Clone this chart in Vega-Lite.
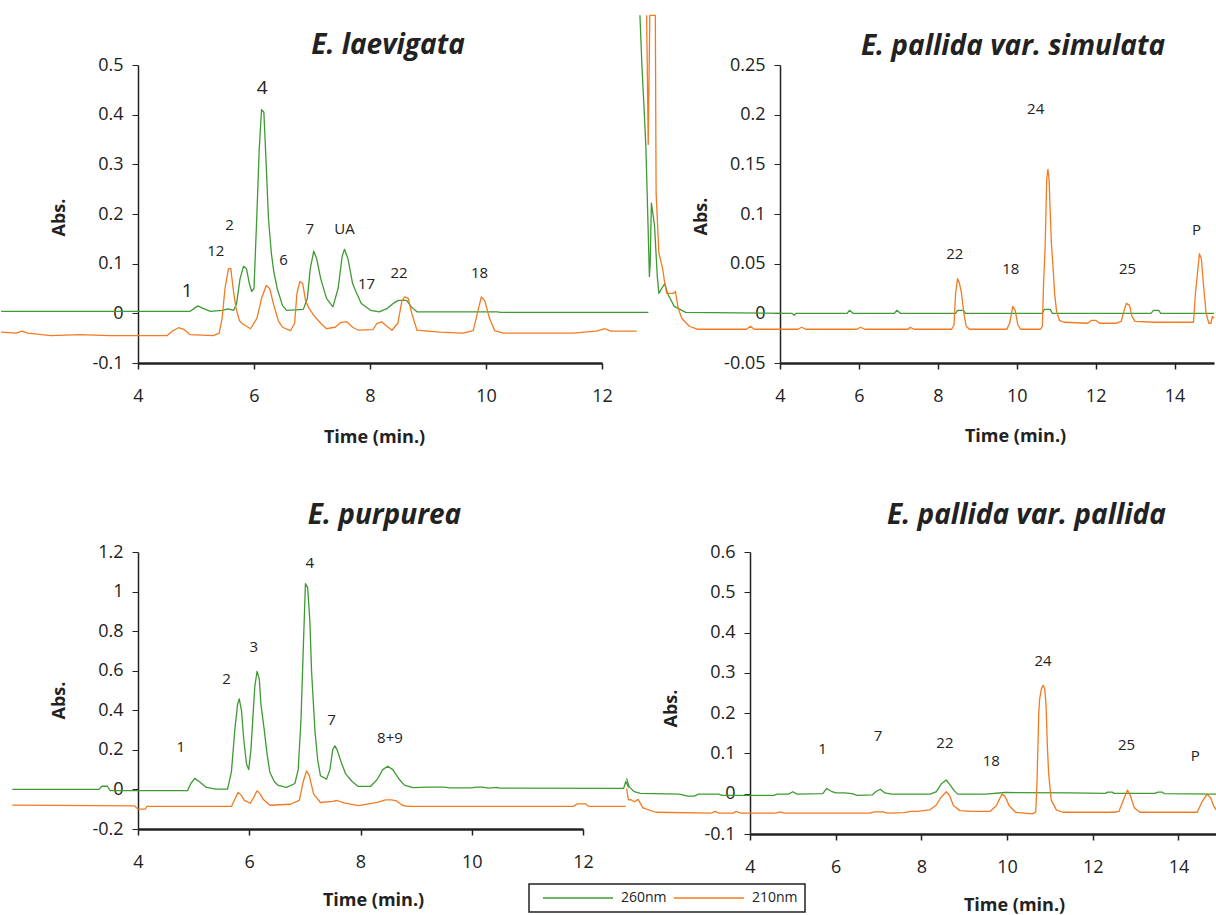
{
"$schema": "https://vega.github.io/schema/vega-lite/v6.json",
"background": "white",
"padding": {"left": 0, "top": 14, "right": 0, "bottom": 0},
"bounds": "flush",
"spacing": 487,
"resolve": {"scale": {"color": "independent"}, "legend": {"color": "independent"}},
"config": {
  "view": {"stroke": null},
  "font": "Open Sans",
  "title": {"font": "Open Sans", "fontSize": 28, "fontWeight": "bold", "fontStyle": "italic", "color": "#222", "anchor": "middle", "baseline": "alphabetic", "offset": 0},
  "axis": {"grid": false, "labelOverlap": false, "tickCount": 12, "domainColor": "#222", "tickColor": "#222", "labelColor": "#222", "titleColor": "#222", "labelFont": "Open Sans", "labelFontSize": 18, "titleFont": "Open Sans", "titleFontSize": 18, "titleFontWeight": "bold", "tickSize": 6, "labelExpr": "replace(datum.label, '\u2212', '-')"},
  "axisX": {"domainWidth": 2.5, "tickWidth": 1.5, "labelPadding": 18, "labelFlush": false, "titleBaseline": "middle", "titleAlign": "center"},
  "axisY": {"domainWidth": 1.5, "labelPadding": 9, "titleBaseline": "bottom", "titleX": -70},
  "legend": {"strokeWidth": 1.5}
},
"datasets": {
  "laev": [
    {"t":1.64,"v":0.004,"s":"260nm"},{"t":4.9,"v":0.004,"s":"260nm"},{"t":4.97,"v":0.01,"s":"260nm"},{"t":5.03,"v":0.015,"s":"260nm"},{"t":5.12,"v":0.01,"s":"260nm"},{"t":5.25,"v":0.004,"s":"260nm"},{"t":5.45,"v":0.006,"s":"260nm"},{"t":5.55,"v":0.009,"s":"260nm"},{"t":5.65,"v":0.006,"s":"260nm"},{"t":5.7,"v":0.02,"s":"260nm"},{"t":5.76,"v":0.07,"s":"260nm"},{"t":5.82,"v":0.095,"s":"260nm"},{"t":5.87,"v":0.09,"s":"260nm"},{"t":5.92,"v":0.06,"s":"260nm"},{"t":5.96,"v":0.044,"s":"260nm"},{"t":6.0,"v":0.05,"s":"260nm"},{"t":6.05,"v":0.2,"s":"260nm"},{"t":6.09,"v":0.33,"s":"260nm"},{"t":6.13,"v":0.41,"s":"260nm"},{"t":6.17,"v":0.405,"s":"260nm"},{"t":6.21,"v":0.3,"s":"260nm"},{"t":6.25,"v":0.19,"s":"260nm"},{"t":6.3,"v":0.12,"s":"260nm"},{"t":6.34,"v":0.085,"s":"260nm"},{"t":6.4,"v":0.05,"s":"260nm"},{"t":6.49,"v":0.016,"s":"260nm"},{"t":6.56,"v":0.006,"s":"260nm"},{"t":6.85,"v":0.008,"s":"260nm"},{"t":6.92,"v":0.03,"s":"260nm"},{"t":6.97,"v":0.09,"s":"260nm"},{"t":7.03,"v":0.125,"s":"260nm"},{"t":7.08,"v":0.11,"s":"260nm"},{"t":7.15,"v":0.07,"s":"260nm"},{"t":7.25,"v":0.03,"s":"260nm"},{"t":7.36,"v":0.013,"s":"260nm"},{"t":7.45,"v":0.05,"s":"260nm"},{"t":7.52,"v":0.115,"s":"260nm"},{"t":7.56,"v":0.129,"s":"260nm"},{"t":7.62,"v":0.11,"s":"260nm"},{"t":7.7,"v":0.06,"s":"260nm"},{"t":7.76,"v":0.043,"s":"260nm"},{"t":7.85,"v":0.02,"s":"260nm"},{"t":8.01,"v":0.006,"s":"260nm"},{"t":8.16,"v":0.003,"s":"260nm"},{"t":8.3,"v":0.01,"s":"260nm"},{"t":8.4,"v":0.02,"s":"260nm"},{"t":8.49,"v":0.026,"s":"260nm"},{"t":8.63,"v":0.026,"s":"260nm"},{"t":8.72,"v":0.012,"s":"260nm"},{"t":8.81,"v":0.003,"s":"260nm"},{"t":10.2,"v":0.003,"s":"260nm"},{"t":10.25,"v":0.002,"s":"260nm"},{"t":12.8,"v":0.002,"s":"260nm"},
    {"t":1.64,"v":-0.038,"s":"210nm"},{"t":1.9,"v":-0.04,"s":"210nm"},{"t":2.0,"v":-0.036,"s":"210nm"},{"t":2.1,"v":-0.04,"s":"210nm"},{"t":2.5,"v":-0.045,"s":"210nm"},{"t":3.0,"v":-0.043,"s":"210nm"},{"t":3.5,"v":-0.045,"s":"210nm"},{"t":4.5,"v":-0.045,"s":"210nm"},{"t":4.6,"v":-0.035,"s":"210nm"},{"t":4.7,"v":-0.029,"s":"210nm"},{"t":4.8,"v":-0.033,"s":"210nm"},{"t":4.9,"v":-0.043,"s":"210nm"},{"t":5.3,"v":-0.045,"s":"210nm"},{"t":5.4,"v":-0.04,"s":"210nm"},{"t":5.45,"v":-0.01,"s":"210nm"},{"t":5.5,"v":0.05,"s":"210nm"},{"t":5.56,"v":0.09,"s":"210nm"},{"t":5.6,"v":0.09,"s":"210nm"},{"t":5.64,"v":0.05,"s":"210nm"},{"t":5.69,"v":0.01,"s":"210nm"},{"t":5.75,"v":-0.015,"s":"210nm"},{"t":5.8,"v":-0.021,"s":"210nm"},{"t":5.94,"v":-0.031,"s":"210nm"},{"t":6.05,"v":-0.01,"s":"210nm"},{"t":6.13,"v":0.03,"s":"210nm"},{"t":6.21,"v":0.056,"s":"210nm"},{"t":6.27,"v":0.05,"s":"210nm"},{"t":6.34,"v":0.017,"s":"210nm"},{"t":6.42,"v":-0.015,"s":"210nm"},{"t":6.49,"v":-0.028,"s":"210nm"},{"t":6.63,"v":-0.035,"s":"210nm"},{"t":6.7,"v":-0.02,"s":"210nm"},{"t":6.74,"v":0.04,"s":"210nm"},{"t":6.79,"v":0.064,"s":"210nm"},{"t":6.84,"v":0.06,"s":"210nm"},{"t":6.89,"v":0.025,"s":"210nm"},{"t":6.95,"v":0.01,"s":"210nm"},{"t":7.03,"v":-0.004,"s":"210nm"},{"t":7.15,"v":-0.02,"s":"210nm"},{"t":7.25,"v":-0.031,"s":"210nm"},{"t":7.4,"v":-0.028,"s":"210nm"},{"t":7.5,"v":-0.018,"s":"210nm"},{"t":7.6,"v":-0.017,"s":"210nm"},{"t":7.7,"v":-0.028,"s":"210nm"},{"t":7.8,"v":-0.034,"s":"210nm"},{"t":8.05,"v":-0.033,"s":"210nm"},{"t":8.12,"v":-0.02,"s":"210nm"},{"t":8.2,"v":-0.017,"s":"210nm"},{"t":8.28,"v":-0.025,"s":"210nm"},{"t":8.38,"v":-0.034,"s":"210nm"},{"t":8.48,"v":-0.02,"s":"210nm"},{"t":8.55,"v":0.025,"s":"210nm"},{"t":8.6,"v":0.033,"s":"210nm"},{"t":8.66,"v":0.03,"s":"210nm"},{"t":8.72,"v":0.0,"s":"210nm"},{"t":8.81,"v":-0.034,"s":"210nm"},{"t":9.2,"v":-0.038,"s":"210nm"},{"t":9.6,"v":-0.04,"s":"210nm"},{"t":9.78,"v":-0.035,"s":"210nm"},{"t":9.85,"v":0.0,"s":"210nm"},{"t":9.92,"v":0.033,"s":"210nm"},{"t":9.98,"v":0.025,"s":"210nm"},{"t":10.06,"v":-0.01,"s":"210nm"},{"t":10.15,"v":-0.035,"s":"210nm"},{"t":10.3,"v":-0.04,"s":"210nm"},{"t":11.5,"v":-0.04,"s":"210nm"},{"t":11.9,"v":-0.036,"s":"210nm"},{"t":12.05,"v":-0.031,"s":"210nm"},{"t":12.15,"v":-0.036,"s":"210nm"},{"t":12.6,"v":-0.036,"s":"210nm"}
  ],
  "laevLab": [
    {"t":5.34,"v":0.125,"label":"12"},{"t":5.58,"v":0.177,"label":"2"},{"t":6.51,"v":0.108,"label":"6"},{"t":6.96,"v":0.17,"label":"7"},{"t":7.56,"v":0.17,"label":"UA"},{"t":7.94,"v":0.06,"label":"17"},{"t":8.5,"v":0.082,"label":"22"},{"t":9.89,"v":0.082,"label":"18"}
  ],
  "laevBig": [
    {"t":4.85,"v":0.045,"label":"1"},{"t":6.14,"v":0.453,"label":"4"}
  ],
  "sim": [
    {"t":0.45,"v":0.30,"s":"260nm"},{"t":0.5,"v":0.25,"s":"260nm"},{"t":0.55,"v":0.21,"s":"260nm"},{"t":0.6,"v":0.168,"s":"260nm"},{"t":0.64,"v":0.111,"s":"260nm"},{"t":0.69,"v":0.037,"s":"260nm"},{"t":0.71,"v":0.05,"s":"260nm"},{"t":0.74,"v":0.111,"s":"260nm"},{"t":0.78,"v":0.1,"s":"260nm"},{"t":0.82,"v":0.088,"s":"260nm"},{"t":0.89,"v":0.037,"s":"260nm"},{"t":0.93,"v":0.02,"s":"260nm"},{"t":1.0,"v":0.025,"s":"260nm"},{"t":1.08,"v":0.03,"s":"260nm"},{"t":1.15,"v":0.02,"s":"260nm"},{"t":1.32,"v":0.007,"s":"260nm"},{"t":1.61,"v":0.001,"s":"260nm"},{"t":4.3,"v":0.0,"s":"260nm"},{"t":4.36,"v":-0.002,"s":"260nm"},{"t":4.4,"v":0.0,"s":"260nm"},{"t":5.7,"v":0.0,"s":"260nm"},{"t":5.76,"v":0.003,"s":"260nm"},{"t":5.85,"v":0.0,"s":"260nm"},{"t":6.9,"v":0.0,"s":"260nm"},{"t":6.96,"v":0.003,"s":"260nm"},{"t":7.05,"v":0.0,"s":"260nm"},{"t":8.45,"v":0.0,"s":"260nm"},{"t":8.5,"v":0.003,"s":"260nm"},{"t":8.65,"v":0.003,"s":"260nm"},{"t":8.7,"v":0.0,"s":"260nm"},{"t":10.65,"v":0.0,"s":"260nm"},{"t":10.7,"v":0.004,"s":"260nm"},{"t":10.85,"v":0.004,"s":"260nm"},{"t":10.9,"v":0.0,"s":"260nm"},{"t":13.4,"v":0.0,"s":"260nm"},{"t":13.47,"v":0.003,"s":"260nm"},{"t":13.6,"v":0.003,"s":"260nm"},{"t":13.65,"v":0.0,"s":"260nm"},{"t":15.0,"v":0.0,"s":"260nm"},
    {"t":0.62,"v":0.30,"s":"210nm"},{"t":0.66,"v":0.17,"s":"210nm"},{"t":0.7,"v":0.30,"s":"210nm"},{"t":0.84,"v":0.30,"s":"210nm"},{"t":0.86,"v":0.121,"s":"210nm"},{"t":0.93,"v":0.061,"s":"210nm"},{"t":1.03,"v":0.044,"s":"210nm"},{"t":1.08,"v":0.03,"s":"210nm"},{"t":1.13,"v":0.02,"s":"210nm"},{"t":1.3,"v":0.02,"s":"210nm"},{"t":1.35,"v":0.022,"s":"210nm"},{"t":1.42,"v":0.005,"s":"210nm"},{"t":1.51,"v":-0.005,"s":"210nm"},{"t":1.7,"v":-0.013,"s":"210nm"},{"t":1.9,"v":-0.016,"s":"210nm"},{"t":3.15,"v":-0.016,"s":"210nm"},{"t":3.25,"v":-0.013,"s":"210nm"},{"t":3.35,"v":-0.016,"s":"210nm"},{"t":4.45,"v":-0.016,"s":"210nm"},{"t":4.55,"v":-0.014,"s":"210nm"},{"t":4.65,"v":-0.016,"s":"210nm"},{"t":5.95,"v":-0.016,"s":"210nm"},{"t":6.04,"v":-0.014,"s":"210nm"},{"t":6.15,"v":-0.016,"s":"210nm"},{"t":7.25,"v":-0.016,"s":"210nm"},{"t":7.3,"v":-0.014,"s":"210nm"},{"t":7.4,"v":-0.016,"s":"210nm"},{"t":8.35,"v":-0.016,"s":"210nm"},{"t":8.41,"v":-0.012,"s":"210nm"},{"t":8.45,"v":0.02,"s":"210nm"},{"t":8.5,"v":0.035,"s":"210nm"},{"t":8.55,"v":0.03,"s":"210nm"},{"t":8.6,"v":0.02,"s":"210nm"},{"t":8.66,"v":0.0,"s":"210nm"},{"t":8.72,"v":-0.013,"s":"210nm"},{"t":8.8,"v":-0.016,"s":"210nm"},{"t":9.75,"v":-0.016,"s":"210nm"},{"t":9.82,"v":-0.01,"s":"210nm"},{"t":9.9,"v":0.007,"s":"210nm"},{"t":9.96,"v":0.003,"s":"210nm"},{"t":10.03,"v":-0.012,"s":"210nm"},{"t":10.1,"v":-0.016,"s":"210nm"},{"t":10.6,"v":-0.016,"s":"210nm"},{"t":10.65,"v":-0.013,"s":"210nm"},{"t":10.68,"v":0.03,"s":"210nm"},{"t":10.72,"v":0.067,"s":"210nm"},{"t":10.76,"v":0.135,"s":"210nm"},{"t":10.79,"v":0.145,"s":"210nm"},{"t":10.82,"v":0.135,"s":"210nm"},{"t":10.85,"v":0.1,"s":"210nm"},{"t":10.88,"v":0.07,"s":"210nm"},{"t":10.92,"v":0.047,"s":"210nm"},{"t":10.96,"v":0.02,"s":"210nm"},{"t":11.01,"v":0.002,"s":"210nm"},{"t":11.08,"v":-0.007,"s":"210nm"},{"t":11.2,"v":-0.009,"s":"210nm"},{"t":11.8,"v":-0.01,"s":"210nm"},{"t":11.9,"v":-0.007,"s":"210nm"},{"t":12.0,"v":-0.007,"s":"210nm"},{"t":12.1,"v":-0.01,"s":"210nm"},{"t":12.5,"v":-0.01,"s":"210nm"},{"t":12.65,"v":-0.008,"s":"210nm"},{"t":12.7,"v":0.0,"s":"210nm"},{"t":12.78,"v":0.01,"s":"210nm"},{"t":12.86,"v":0.008,"s":"210nm"},{"t":12.92,"v":-0.003,"s":"210nm"},{"t":13.0,"v":-0.008,"s":"210nm"},{"t":13.5,"v":-0.009,"s":"210nm"},{"t":14.48,"v":-0.009,"s":"210nm"},{"t":14.53,"v":0.02,"s":"210nm"},{"t":14.58,"v":0.04,"s":"210nm"},{"t":14.63,"v":0.06,"s":"210nm"},{"t":14.68,"v":0.055,"s":"210nm"},{"t":14.73,"v":0.03,"s":"210nm"},{"t":14.8,"v":0.0,"s":"210nm"},{"t":14.87,"v":-0.01,"s":"210nm"},{"t":14.92,"v":-0.01,"s":"210nm"},{"t":14.96,"v":-0.003,"s":"210nm"},{"t":15.0,"v":-0.005,"s":"210nm"}
  ],
  "simLab": [
    {"t":10.48,"v":0.206,"label":"24"},{"t":8.43,"v":0.06,"label":"22"},{"t":9.85,"v":0.045,"label":"18"},{"t":12.81,"v":0.045,"label":"25"},{"t":14.56,"v":0.084,"label":"P"}
  ],
  "pur": [
    {"t":1.74,"v":0.0,"s":"260nm"},{"t":3.3,"v":0.0,"s":"260nm"},{"t":3.35,"v":0.016,"s":"260nm"},{"t":3.45,"v":0.016,"s":"260nm"},{"t":3.5,"v":-0.006,"s":"260nm"},{"t":4.89,"v":-0.006,"s":"260nm"},{"t":4.95,"v":0.03,"s":"260nm"},{"t":5.02,"v":0.056,"s":"260nm"},{"t":5.1,"v":0.04,"s":"260nm"},{"t":5.23,"v":0.01,"s":"260nm"},{"t":5.4,"v":0.002,"s":"260nm"},{"t":5.61,"v":0.002,"s":"260nm"},{"t":5.68,"v":0.09,"s":"260nm"},{"t":5.74,"v":0.3,"s":"260nm"},{"t":5.79,"v":0.43,"s":"260nm"},{"t":5.82,"v":0.458,"s":"260nm"},{"t":5.86,"v":0.4,"s":"260nm"},{"t":5.9,"v":0.256,"s":"260nm"},{"t":5.95,"v":0.13,"s":"260nm"},{"t":5.99,"v":0.1,"s":"260nm"},{"t":6.03,"v":0.2,"s":"260nm"},{"t":6.06,"v":0.339,"s":"260nm"},{"t":6.1,"v":0.52,"s":"260nm"},{"t":6.14,"v":0.596,"s":"260nm"},{"t":6.18,"v":0.56,"s":"260nm"},{"t":6.21,"v":0.43,"s":"260nm"},{"t":6.27,"v":0.3,"s":"260nm"},{"t":6.32,"v":0.18,"s":"260nm"},{"t":6.37,"v":0.087,"s":"260nm"},{"t":6.45,"v":0.04,"s":"260nm"},{"t":6.52,"v":0.02,"s":"260nm"},{"t":6.67,"v":0.01,"s":"260nm"},{"t":6.82,"v":0.03,"s":"260nm"},{"t":6.88,"v":0.1,"s":"260nm"},{"t":6.93,"v":0.35,"s":"260nm"},{"t":6.97,"v":0.7,"s":"260nm"},{"t":7.01,"v":1.04,"s":"260nm"},{"t":7.05,"v":1.02,"s":"260nm"},{"t":7.09,"v":0.85,"s":"260nm"},{"t":7.12,"v":0.6,"s":"260nm"},{"t":7.18,"v":0.3,"s":"260nm"},{"t":7.23,"v":0.15,"s":"260nm"},{"t":7.28,"v":0.069,"s":"260nm"},{"t":7.39,"v":0.052,"s":"260nm"},{"t":7.45,"v":0.1,"s":"260nm"},{"t":7.5,"v":0.2,"s":"260nm"},{"t":7.54,"v":0.221,"s":"260nm"},{"t":7.58,"v":0.2,"s":"260nm"},{"t":7.65,"v":0.14,"s":"260nm"},{"t":7.73,"v":0.08,"s":"260nm"},{"t":7.85,"v":0.04,"s":"260nm"},{"t":7.96,"v":0.015,"s":"260nm"},{"t":8.18,"v":0.015,"s":"260nm"},{"t":8.3,"v":0.05,"s":"260nm"},{"t":8.4,"v":0.1,"s":"260nm"},{"t":8.49,"v":0.117,"s":"260nm"},{"t":8.58,"v":0.1,"s":"260nm"},{"t":8.7,"v":0.05,"s":"260nm"},{"t":8.79,"v":0.022,"s":"260nm"},{"t":8.94,"v":0.009,"s":"260nm"},{"t":9.2,"v":0.012,"s":"260nm"},{"t":9.5,"v":0.012,"s":"260nm"},{"t":9.6,"v":0.008,"s":"260nm"},{"t":10.0,"v":0.008,"s":"260nm"},{"t":10.08,"v":0.012,"s":"260nm"},{"t":10.2,"v":0.012,"s":"260nm"},{"t":10.3,"v":0.007,"s":"260nm"},{"t":10.45,"v":0.01,"s":"260nm"},{"t":10.5,"v":0.007,"s":"260nm"},{"t":12.73,"v":0.005,"s":"260nm"},{"t":12.77,"v":0.04,"s":"260nm"},{"t":12.82,"v":0.01,"s":"260nm"},
    {"t":1.74,"v":-0.079,"s":"210nm"},{"t":3.94,"v":-0.083,"s":"210nm"},{"t":4.0,"v":-0.1,"s":"210nm"},{"t":4.13,"v":-0.1,"s":"210nm"},{"t":4.16,"v":-0.086,"s":"210nm"},{"t":5.68,"v":-0.086,"s":"210nm"},{"t":5.74,"v":-0.05,"s":"210nm"},{"t":5.8,"v":-0.015,"s":"210nm"},{"t":5.86,"v":-0.03,"s":"210nm"},{"t":5.91,"v":-0.055,"s":"210nm"},{"t":6.02,"v":-0.07,"s":"210nm"},{"t":6.08,"v":-0.04,"s":"210nm"},{"t":6.14,"v":-0.007,"s":"210nm"},{"t":6.2,"v":-0.025,"s":"210nm"},{"t":6.25,"v":-0.05,"s":"210nm"},{"t":6.37,"v":-0.08,"s":"210nm"},{"t":6.74,"v":-0.075,"s":"210nm"},{"t":6.9,"v":-0.055,"s":"210nm"},{"t":6.97,"v":0.04,"s":"210nm"},{"t":7.03,"v":0.094,"s":"210nm"},{"t":7.08,"v":0.07,"s":"210nm"},{"t":7.12,"v":0.02,"s":"210nm"},{"t":7.16,"v":-0.025,"s":"210nm"},{"t":7.28,"v":-0.066,"s":"210nm"},{"t":7.5,"v":-0.06,"s":"210nm"},{"t":7.58,"v":-0.056,"s":"210nm"},{"t":7.7,"v":-0.068,"s":"210nm"},{"t":7.96,"v":-0.082,"s":"210nm"},{"t":8.3,"v":-0.065,"s":"210nm"},{"t":8.45,"v":-0.053,"s":"210nm"},{"t":8.56,"v":-0.053,"s":"210nm"},{"t":8.65,"v":-0.058,"s":"210nm"},{"t":8.75,"v":-0.08,"s":"210nm"},{"t":8.85,"v":-0.086,"s":"210nm"},{"t":11.82,"v":-0.086,"s":"210nm"},{"t":11.9,"v":-0.073,"s":"210nm"},{"t":12.05,"v":-0.073,"s":"210nm"},{"t":12.1,"v":-0.086,"s":"210nm"},{"t":12.77,"v":-0.086,"s":"210nm"}
  ],
  "purLab": [
    {"t":4.77,"v":0.213,"label":"1"},{"t":5.59,"v":0.556,"label":"2"},{"t":6.08,"v":0.719,"label":"3"},{"t":7.09,"v":1.146,"label":"4"},{"t":7.48,"v":0.352,"label":"7"},{"t":8.53,"v":0.259,"label":"8+9"}
  ],
  "pal": [
    {"t":1.12,"v":0.038,"s":"260nm"},{"t":1.18,"v":0.017,"s":"260nm"},{"t":1.3,"v":0.005,"s":"260nm"},{"t":1.44,"v":0.001,"s":"260nm"},{"t":2.35,"v":-0.001,"s":"260nm"},{"t":2.55,"v":-0.006,"s":"260nm"},{"t":2.7,"v":-0.006,"s":"260nm"},{"t":2.8,"v":-0.001,"s":"260nm"},{"t":3.27,"v":-0.001,"s":"260nm"},{"t":3.35,"v":-0.004,"s":"260nm"},{"t":4.55,"v":-0.004,"s":"260nm"},{"t":4.64,"v":-0.001,"s":"260nm"},{"t":4.9,"v":-0.001,"s":"260nm"},{"t":5.0,"v":0.005,"s":"260nm"},{"t":5.1,"v":-0.001,"s":"260nm"},{"t":5.7,"v":0.0,"s":"260nm"},{"t":5.79,"v":0.013,"s":"260nm"},{"t":5.9,"v":0.006,"s":"260nm"},{"t":6.0,"v":0.002,"s":"260nm"},{"t":6.2,"v":0.002,"s":"260nm"},{"t":6.38,"v":0.0,"s":"260nm"},{"t":6.5,"v":-0.004,"s":"260nm"},{"t":6.85,"v":-0.003,"s":"260nm"},{"t":6.95,"v":0.006,"s":"260nm"},{"t":7.04,"v":0.011,"s":"260nm"},{"t":7.15,"v":0.002,"s":"260nm"},{"t":7.3,"v":-0.001,"s":"260nm"},{"t":8.21,"v":-0.001,"s":"260nm"},{"t":8.35,"v":0.005,"s":"260nm"},{"t":8.47,"v":0.025,"s":"260nm"},{"t":8.58,"v":0.034,"s":"260nm"},{"t":8.67,"v":0.022,"s":"260nm"},{"t":8.77,"v":0.007,"s":"260nm"},{"t":8.85,"v":-0.001,"s":"260nm"},{"t":9.5,"v":-0.001,"s":"260nm"},{"t":9.95,"v":0.003,"s":"260nm"},{"t":11.5,"v":0.002,"s":"260nm"},{"t":12.3,"v":0.001,"s":"260nm"},{"t":12.35,"v":0.004,"s":"260nm"},{"t":12.45,"v":0.004,"s":"260nm"},{"t":12.5,"v":0.001,"s":"260nm"},{"t":13.45,"v":0.001,"s":"260nm"},{"t":13.52,"v":0.004,"s":"260nm"},{"t":13.62,"v":0.004,"s":"260nm"},{"t":13.67,"v":0.0,"s":"260nm"},{"t":14.88,"v":-0.001,"s":"260nm"},
    {"t":1.12,"v":0.013,"s":"210nm"},{"t":1.16,"v":-0.015,"s":"210nm"},{"t":1.22,"v":-0.015,"s":"210nm"},{"t":1.3,"v":-0.02,"s":"210nm"},{"t":1.39,"v":-0.014,"s":"210nm"},{"t":1.5,"v":-0.035,"s":"210nm"},{"t":1.8,"v":-0.046,"s":"210nm"},{"t":3.1,"v":-0.048,"s":"210nm"},{"t":3.18,"v":-0.044,"s":"210nm"},{"t":3.28,"v":-0.048,"s":"210nm"},{"t":3.6,"v":-0.048,"s":"210nm"},{"t":3.68,"v":-0.044,"s":"210nm"},{"t":3.78,"v":-0.048,"s":"210nm"},{"t":4.6,"v":-0.048,"s":"210nm"},{"t":4.7,"v":-0.045,"s":"210nm"},{"t":4.8,"v":-0.048,"s":"210nm"},{"t":6.8,"v":-0.048,"s":"210nm"},{"t":6.9,"v":-0.045,"s":"210nm"},{"t":7.1,"v":-0.045,"s":"210nm"},{"t":7.2,"v":-0.048,"s":"210nm"},{"t":7.6,"v":-0.047,"s":"210nm"},{"t":7.75,"v":-0.044,"s":"210nm"},{"t":7.9,"v":-0.044,"s":"210nm"},{"t":8.2,"v":-0.04,"s":"210nm"},{"t":8.35,"v":-0.028,"s":"210nm"},{"t":8.45,"v":-0.01,"s":"210nm"},{"t":8.58,"v":0.005,"s":"210nm"},{"t":8.66,"v":-0.005,"s":"210nm"},{"t":8.75,"v":-0.03,"s":"210nm"},{"t":8.9,"v":-0.042,"s":"210nm"},{"t":9.2,"v":-0.044,"s":"210nm"},{"t":9.6,"v":-0.044,"s":"210nm"},{"t":9.75,"v":-0.03,"s":"210nm"},{"t":9.88,"v":-0.001,"s":"210nm"},{"t":9.95,"v":-0.006,"s":"210nm"},{"t":10.05,"v":-0.03,"s":"210nm"},{"t":10.2,"v":-0.046,"s":"210nm"},{"t":10.59,"v":-0.05,"s":"210nm"},{"t":10.67,"v":-0.045,"s":"210nm"},{"t":10.7,"v":0.034,"s":"210nm"},{"t":10.74,"v":0.2,"s":"210nm"},{"t":10.76,"v":0.235,"s":"210nm"},{"t":10.8,"v":0.26,"s":"210nm"},{"t":10.84,"v":0.269,"s":"210nm"},{"t":10.88,"v":0.26,"s":"210nm"},{"t":10.91,"v":0.22,"s":"210nm"},{"t":10.94,"v":0.12,"s":"210nm"},{"t":10.97,"v":0.051,"s":"210nm"},{"t":11.03,"v":-0.016,"s":"210nm"},{"t":11.15,"v":-0.04,"s":"210nm"},{"t":11.3,"v":-0.046,"s":"210nm"},{"t":12.5,"v":-0.046,"s":"210nm"},{"t":12.61,"v":-0.044,"s":"210nm"},{"t":12.7,"v":-0.02,"s":"210nm"},{"t":12.81,"v":0.009,"s":"210nm"},{"t":12.88,"v":-0.005,"s":"210nm"},{"t":12.97,"v":-0.035,"s":"210nm"},{"t":13.1,"v":-0.046,"s":"210nm"},{"t":14.44,"v":-0.046,"s":"210nm"},{"t":14.55,"v":-0.02,"s":"210nm"},{"t":14.67,"v":-0.001,"s":"210nm"},{"t":14.75,"v":-0.01,"s":"210nm"},{"t":14.82,"v":-0.03,"s":"210nm"},{"t":14.88,"v":-0.04,"s":"210nm"}
  ],
  "palLab": [
    {"t":5.69,"v":0.111,"label":"1"},{"t":6.99,"v":0.143,"label":"7"},{"t":8.55,"v":0.125,"label":"22"},{"t":9.63,"v":0.082,"label":"18"},{"t":10.84,"v":0.329,"label":"24"},{"t":12.79,"v":0.122,"label":"25"},{"t":14.39,"v":0.093,"label":"P"}
  ]
},
"vconcat": [
  {
    "bounds": "flush",
    "spacing": 178,
    "resolve": {"scale": {"color": "independent"}, "legend": {"color": "independent"}},
    "hconcat": [
      {
        "width": 464, "height": 298,
        "title": {"text": "E. laevigata", "dx": 18, "dy": 8},
        "layer": [
          {"data": {"name": "laev"}, "mark": {"type": "line", "clip": false, "strokeWidth": 1.3, "strokeJoin": "round"},
           "encoding": {
             "x": {"field": "t", "type": "quantitative", "scale": {"domain": [4, 12], "nice": false, "zero": false},
                   "axis": {"values": [4, 6, 8, 10, 12], "format": "~g", "tickCount": 12, "title": "Time (min.)", "titleX": 236, "titleY": 74}},
             "y": {"field": "v", "type": "quantitative", "scale": {"domain": [-0.1, 0.5], "nice": false, "zero": false},
                   "axis": {"values": [-0.1, 0, 0.1, 0.2, 0.3, 0.4, 0.5], "format": "~g", "tickCount": 12, "title": "Abs.", "titleY": 152}},
             "color": {"field": "s", "type": "nominal", "scale": {"domain": ["260nm", "210nm"], "range": ["#3f9a33", "#f47a22"]}, "legend": null}
           }},
          {"data": {"name": "laevLab"}, "mark": {"type": "text", "fontSize": 15, "color": "#222", "font": "Open Sans"},
           "encoding": {"x": {"field": "t", "type": "quantitative"}, "y": {"field": "v", "type": "quantitative"}, "text": {"field": "label"}}},
          {"data": {"name": "laevBig"}, "mark": {"type": "text", "fontSize": 19, "color": "#222", "font": "Open Sans"},
           "encoding": {"x": {"field": "t", "type": "quantitative"}, "y": {"field": "v", "type": "quantitative"}, "text": {"field": "label"}}}
        ]
      },
      {
        "width": 434, "height": 298,
        "title": {"text": "E. pallida var. simulata", "dx": 16, "dy": 50},
        "layer": [
          {"data": {"name": "sim"}, "mark": {"type": "line", "clip": false, "strokeWidth": 1.3, "strokeJoin": "round"},
           "encoding": {
             "x": {"field": "t", "type": "quantitative", "scale": {"domain": [4, 15], "nice": false, "zero": false},
                   "axis": {"values": [4, 6, 8, 10, 12, 14], "format": "~g", "tickCount": 12, "title": "Time (min.)", "titleX": 235, "titleY": 73}},
             "y": {"field": "v", "type": "quantitative", "scale": {"domain": [-0.05, 0.25], "nice": false, "zero": false},
                   "axis": {"values": [-0.05, 0, 0.05, 0.1, 0.15, 0.2, 0.25], "format": "~g", "tickCount": 12, "title": "Abs.", "titleY": 151}},
             "color": {"field": "s", "type": "nominal", "scale": {"domain": ["260nm", "210nm"], "range": ["#3f9a33", "#f47a22"]}, "legend": null}
           }},
          {"data": {"name": "simLab"}, "mark": {"type": "text", "fontSize": 15, "color": "#222", "font": "Open Sans"},
           "encoding": {"x": {"field": "t", "type": "quantitative"}, "y": {"field": "v", "type": "quantitative"}, "text": {"field": "label"}}}
        ]
      }
    ]
  },
  {
    "bounds": "flush",
    "spacing": 167,
    "resolve": {"scale": {"color": "independent"}, "legend": {"color": "independent"}},
    "hconcat": [
      {
        "width": 445, "height": 277,
        "title": {"text": "E. purpurea", "dx": 24, "dy": -9},
        "layer": [
          {"data": {"name": "pur"}, "mark": {"type": "line", "clip": false, "strokeWidth": 1.3, "strokeJoin": "round"},
           "encoding": {
             "x": {"field": "t", "type": "quantitative", "scale": {"domain": [4, 12], "nice": false, "zero": false},
                   "axis": {"values": [4, 6, 8, 10, 12], "format": "~g", "tickCount": 12, "title": "Time (min.)", "titleX": 235, "titleY": 71}},
             "y": {"field": "v", "type": "quantitative", "scale": {"domain": [-0.2, 1.2], "nice": false, "zero": false},
                   "axis": {"values": [-0.2, 0, 0.2, 0.4, 0.6, 0.8, 1, 1.2], "format": "~g", "tickCount": 12, "title": "Abs.", "titleY": 148}},
             "color": {"field": "s", "type": "nominal", "scale": {"domain": ["260nm", "210nm"], "range": ["#3f9a33", "#f47a22"]}, "legend": null}
           }},
          {"data": {"name": "purLab"}, "mark": {"type": "text", "fontSize": 15, "color": "#222", "font": "Open Sans"},
           "encoding": {"x": {"field": "t", "type": "quantitative"}, "y": {"field": "v", "type": "quantitative"}, "text": {"field": "label"}}}
        ]
      },
      {
        "width": 467, "height": 282,
        "title": {"text": "E. pallida var. pallida", "dx": 43, "dy": -9},
        "layer": [
          {"data": {"name": "pal"}, "mark": {"type": "line", "clip": false, "strokeWidth": 1.3, "strokeJoin": "round"},
           "encoding": {
             "x": {"field": "t", "type": "quantitative", "scale": {"domain": [4, 14.9], "nice": false, "zero": false},
                   "axis": {"values": [4, 6, 8, 10, 12, 14], "format": "~g", "tickCount": 12, "title": "Time (min.)", "titleX": 264, "titleY": 71}},
             "y": {"field": "v", "type": "quantitative", "scale": {"domain": [-0.1, 0.6], "nice": false, "zero": false},
                   "axis": {"values": [-0.1, 0, 0.1, 0.2, 0.3, 0.4, 0.5, 0.6], "format": "~g", "tickCount": 12, "title": "Abs.", "titleY": 156}},
             "color": {"field": "s", "type": "nominal", "scale": {"domain": ["260nm", "210nm"], "range": ["#3f9a33", "#f47a22"]},
                       "legend": {"orient": "none", "legendX": -221, "legendY": 332, "direction": "horizontal", "title": null,
                                  "symbolType": "M0,0H17.5", "symbolSize": 64, "symbolStrokeWidth": 1.5, "labelOffset": 71,
                                  "labelFontSize": 14, "labelFont": "Open Sans", "labelColor": "#222", "columnPadding": 0,
                                  "padding": 7, "strokeColor": "#222", "fillColor": "white"}}
           }},
          {"data": {"name": "palLab"}, "mark": {"type": "text", "fontSize": 15, "color": "#222", "font": "Open Sans"},
           "encoding": {"x": {"field": "t", "type": "quantitative"}, "y": {"field": "v", "type": "quantitative"}, "text": {"field": "label"}}}
        ]
      }
    ]
  }
]
}
